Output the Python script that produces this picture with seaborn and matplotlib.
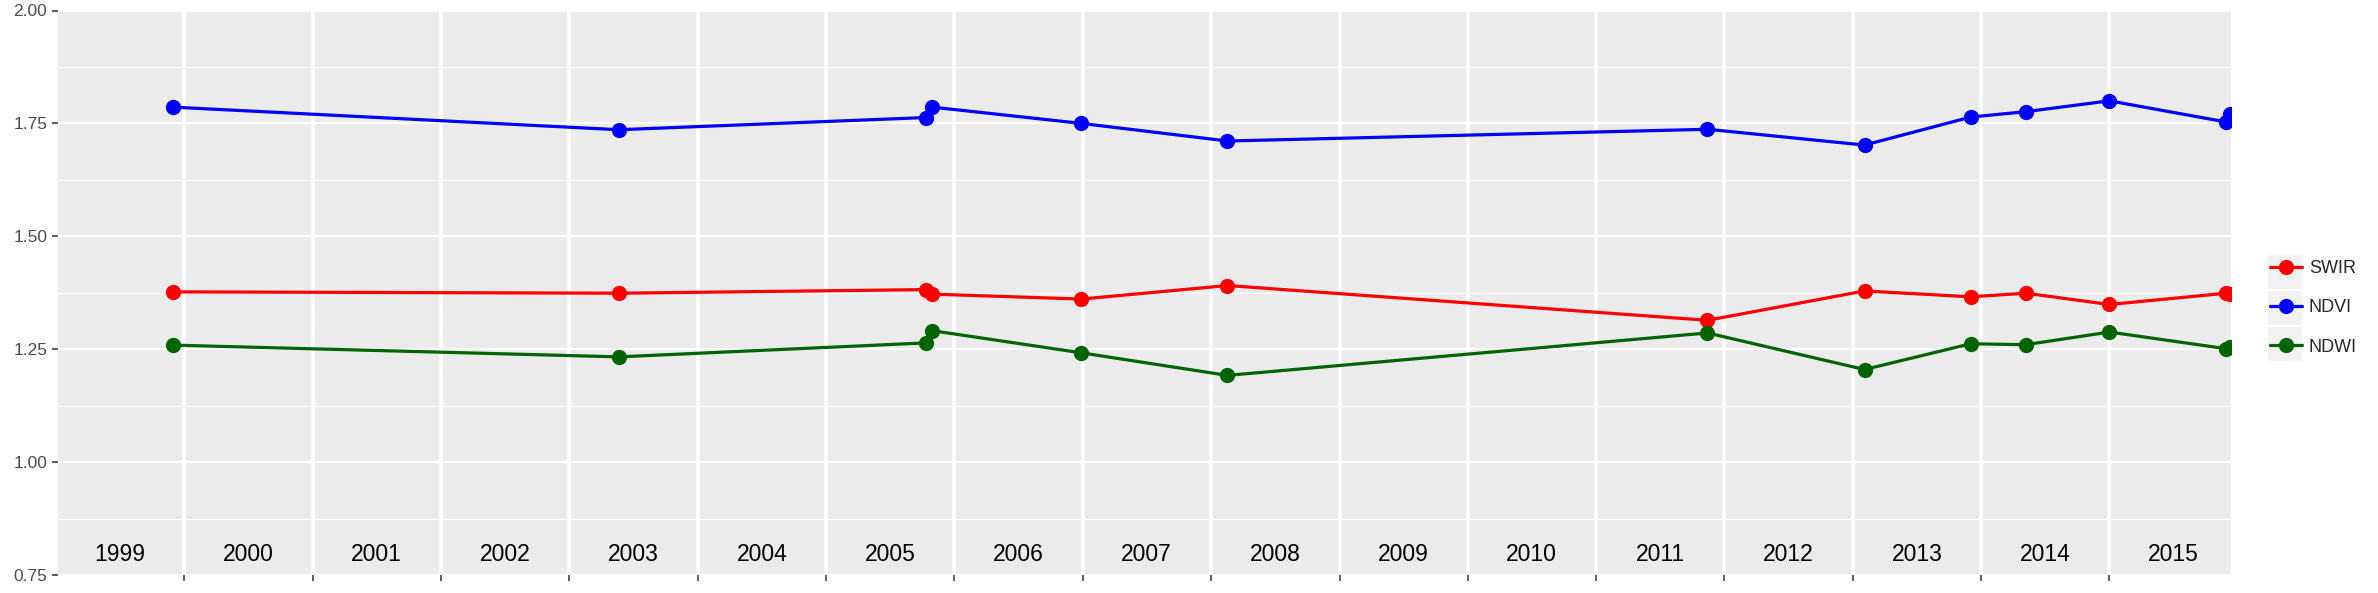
import pandas as pd
import matplotlib
matplotlib.use("Agg")
import matplotlib.pyplot as plt
import matplotlib.dates as mdates
from matplotlib.lines import Line2D
from matplotlib.patches import Rectangle
from matplotlib.ticker import MultipleLocator
import seaborn as sns

# acquisition dates and index values
dates = [
    "1999-12-01", "2003-05-22", "2005-10-12", "2005-10-30", "2006-12-28",
    "2008-02-17", "2011-11-14", "2013-02-03", "2013-12-02", "2014-05-08",
    "2015-01-01", "2015-11-30", "2015-12-11",
]
swir = [1.377, 1.374, 1.382, 1.372, 1.361, 1.391, 1.314, 1.379, 1.366, 1.374, 1.349, 1.374, 1.372]
ndvi = [1.786, 1.736, 1.763, 1.786, 1.750, 1.711, 1.737, 1.702, 1.764, 1.776, 1.800, 1.753, 1.771]
ndwi = [1.259, 1.233, 1.264, 1.291, 1.242, 1.192, 1.286, 1.205, 1.262, 1.260, 1.288, 1.251, 1.255]

index_names = ["SWIR", "NDVI", "NDWI"]
index_colors = ["#FF0000", "#0000FF", "#006400"]
years = list(range(1999, 2016))

df = pd.DataFrame({"date": pd.to_datetime(dates), "SWIR": swir, "NDVI": ndvi, "NDWI": ndwi})
long_df = df.melt(id_vars="date", var_name="index", value_name="value")

sns.set_theme(style="darkgrid")
plt.rcParams["font.family"] = ["Liberation Sans", "DejaVu Sans"]

fig = plt.figure(figsize=(23.78, 5.93), dpi=100)
ax = fig.add_axes([57.7 / 2378, 1 - 575 / 593, (2231 - 57.7) / 2378, (575 - 10.5) / 593])
ax.set_facecolor("#EBEBEB")

sns.lineplot(
    data=long_df, x="date", y="value", hue="index",
    hue_order=index_names, palette=index_colors,
    estimator=None, marker="o", markersize=11, markeredgewidth=0,
    linewidth=2.3, legend=False, ax=ax, clip_on=True,
)

ax.set_xlim(pd.Timestamp("1999-01-06"), pd.Timestamp("2015-12-13"))
ax.set_ylim(0.75, 2.0)

# year boundaries as ticks / grid
ax.xaxis.set_major_locator(mdates.YearLocator())
ax.xaxis.set_major_formatter(plt.NullFormatter())
ax.yaxis.set_major_locator(MultipleLocator(0.25))
ax.yaxis.set_minor_locator(MultipleLocator(0.125))
ax.yaxis.set_major_formatter(matplotlib.ticker.FormatStrFormatter("%.2f"))

ax.grid(False)
ax.grid(axis="x", which="major", color="white", linewidth=2.6)
ax.grid(axis="y", which="major", color="white", linewidth=1.5)
ax.grid(axis="y", which="minor", color="white", linewidth=0.75)
ax.set_axisbelow(True)

ax.tick_params(axis="both", which="major", length=4.5, width=1.1, color="#333333",
               labelsize=12.5, labelcolor="#4D4D4D", pad=3, bottom=True, left=True)
ax.tick_params(axis="both", which="minor", length=0)
for s in ax.spines.values():
    s.set_visible(False)
ax.set_xlabel("")
ax.set_ylabel("")

# year labels centred in each year band
for yr in years:
    ax.text(pd.Timestamp(f"{yr}-07-02"), 0.796, str(yr), ha="center", va="center",
            fontsize=16.5, color="black")

# legend with ggplot-like grey key boxes
key_centers = [272, 308, 344]
for yc in key_centers:
    fig.patches.append(Rectangle((2268 / 2378, 1 - (yc + 17) / 593), 34 / 2378, 34 / 593,
                                 transform=fig.transFigure, facecolor="#F2F2F2",
                                 edgecolor="none", zorder=0))
handles = [Line2D([0], [0], color=c, lw=2.3, marker="o", markersize=11, markeredgewidth=0)
           for c in index_colors]
fig.legend(handles, index_names, loc="center left", bbox_to_anchor=(2270 / 2378, 1 - 308 / 593),
           frameon=False, fontsize=13, handlelength=1.75, handletextpad=0.4,
           labelspacing=1.22, borderpad=0, borderaxespad=0)

fig.savefig("out.png", dpi=100)
